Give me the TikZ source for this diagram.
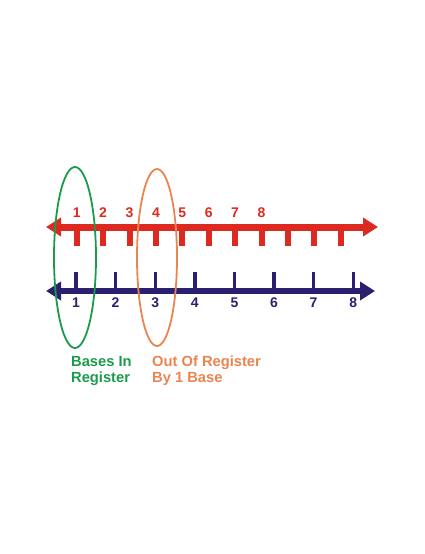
\documentclass[tikz,border=0pt]{standalone}
\usepackage{fontspec}
\setmainfont{Liberation Sans}
\usetikzlibrary{arrows.meta,calc,shapes.geometric}
\definecolor{rline}{HTML}{DC2A20}
\definecolor{bline}{HTML}{2B1F70}
\definecolor{gring}{HTML}{1C9A4C}
\definecolor{oring}{HTML}{EA8450}
\begin{document}
\begin{tikzpicture}[x=1pt,y=-1pt,
  axisline/.style={{Triangle[length=15pt,width=18pt]}-{Triangle[length=15pt,width=18pt]}},
  numlab/.style={font=\fontsize{14}{16}\selectfont\bfseries,anchor=base,inner sep=0pt},
  caplab/.style={font=\fontsize{14.7}{16}\selectfont\bfseries,anchor=base west,align=left,inner sep=0pt},
  ring/.style={line width=1.8pt}]
\useasboundingbox (0,0) rectangle (425,554);
% red line
\coordinate (rl) at (46,227);
\coordinate (rr) at (378,227);
\draw[axisline,rline,line width=7pt] (rl) -- (rr);
\foreach \i in {0,...,10}{
  \coordinate (rt\i) at ({76.7+26.4*\i},227);
  \fill[rline] ($(rt\i)+(-3,0)$) rectangle ($(rt\i)+(3,19)$);
}
\foreach \i in {1,...,8}{
  \node[numlab,text=rline] (rn\i) at ({76.7+26.4*(\i-1)},217.5) {\i};
}
% blue line
\coordinate (bl) at (46,291);
\coordinate (br) at (375,291);
\draw[axisline,bline,line width=6pt] (bl) -- (br);
\foreach \i in {1,...,8}{
  \coordinate (bt\i) at ({76+39.6*(\i-1)},291);
  \fill[bline] ($(bt\i)+(-1.7,0)$) rectangle ($(bt\i)+(1.7,-19)$);
  \node[numlab,text=bline] (bn\i) at ({76+39.6*(\i-1)},307.5) {\i};
}
% rings
\node[ring,draw=gring,ellipse,minimum width=42pt,minimum height=181pt,inner sep=0pt] (gr) at (75,257.5) {};
\node[ring,draw=oring,ellipse,minimum width=40pt,minimum height=177pt,inner sep=0pt] (or) at (157,257.5) {};
% captions
\node[caplab,text=gring] (gc) at (71,382) {Bases In\\Register};
\node[caplab,text=oring] (oc) at (152,382) {Out Of Register\\By 1 Base};
\end{tikzpicture}
\end{document}
